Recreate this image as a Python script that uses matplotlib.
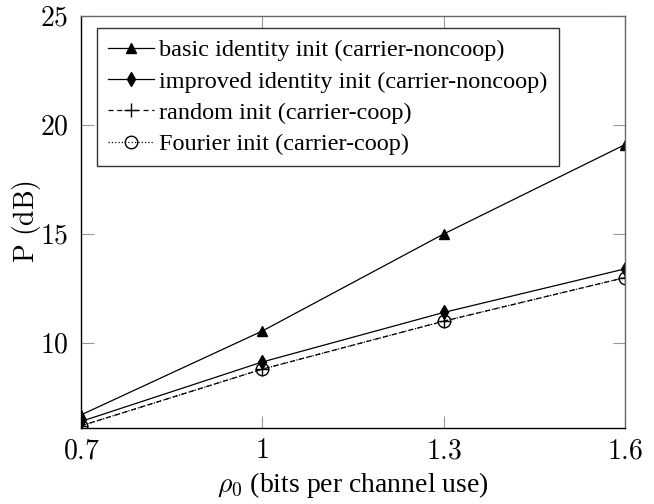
import matplotlib
matplotlib.use("Agg")
import matplotlib.pyplot as plt

plt.rcParams['font.family'] = ['Liberation Serif', 'DejaVu Serif']
plt.rcParams['mathtext.fontset'] = 'cm'

rho = [0.7, 1.0, 1.3, 1.6]
basic = [6.7, 10.55, 15.0, 19.1]
improved = [6.4, 9.13, 11.4, 13.4]
random_init = [6.2, 8.8, 11.0, 13.0]
fourier = [6.2, 8.8, 11.0, 13.0]
xtick_labels = ['0.7', '1', '1.3', '1.6']
yticks = [10, 15, 20, 25]

fig = plt.figure(figsize=(6.54, 5.04), dpi=100)
ax = fig.add_axes([0.1239, 0.1508, 0.8318, 0.8175])

ax.plot(rho, basic, '-', color='black', lw=0.9, marker='^', ms=7.5,
        label='basic identity init (carrier-noncoop)')
ax.plot(rho, improved, '-', color='black', lw=0.9, marker='d', ms=7.5,
        label='improved identity init (carrier-noncoop)')
ax.plot(rho, random_init, '--', color='black', lw=0.9, marker='+', ms=10,
        dashes=(4, 3), label='random init (carrier-coop)')
ax.plot(rho, fourier, ':', color='black', lw=0.9, marker='o', ms=9,
        mfc='none', label='Fourier init (carrier-coop)')

ax.set_xlim(0.7, 1.6)
ax.set_ylim(6.1, 25)
ax.set_xticks(rho)
ax.set_xticklabels(['$%s$' % s for s in xtick_labels], fontsize=20)
ax.set_yticks(yticks)
ax.set_yticklabels(['$%d$' % v for v in yticks], fontsize=20)
ax.tick_params(direction='in', length=9, width=0.8, color='#999999',
               top=True, right=True)
ax.tick_params(axis='x', pad=8)
ax.tick_params(axis='y', pad=9)

for s in ['left', 'bottom']:
    ax.spines[s].set_color('black')
    ax.spines[s].set_linewidth(1.0)
for s in ['top', 'right']:
    ax.spines[s].set_color('#666666')
    ax.spines[s].set_linewidth(1.0)

ax.set_xlabel(r'$\rho_0$ (bits per channel use)', fontsize=20, labelpad=4)
ax.set_ylabel(r'$\mathrm{P\ (dB)}$', fontsize=20, labelpad=-2)

leg = ax.legend(loc='upper left', bbox_to_anchor=(0.03, 0.97), fontsize=17.5,
                frameon=True, fancybox=False, framealpha=1, edgecolor='#333333',
                handlelength=1.9, handletextpad=0.2, borderpad=0.45,
                labelspacing=0.38, borderaxespad=0)
leg.get_frame().set_linewidth(1.0)

fig.savefig('out.png', dpi=100)
